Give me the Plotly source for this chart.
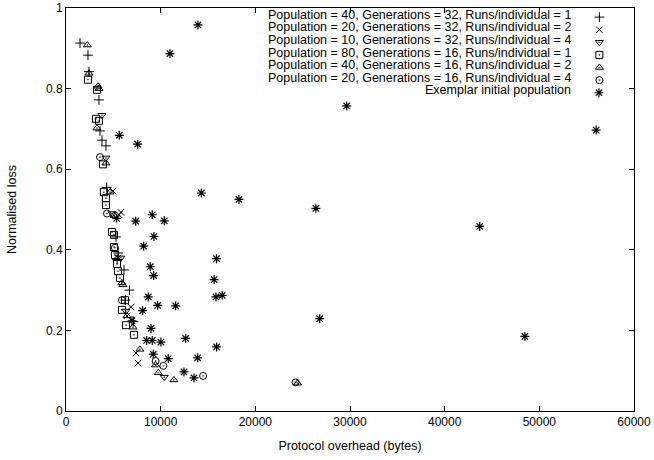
import plotly.graph_objects as go

# ---- data ----
p40g32r1_x = [1480, 2320, 2430, 3480, 3590, 3800, 4220, 4300, 5280, 5500, 5400, 6130, 6280, 7120, 6700]
p40g32r1_y = [0.913, 0.883, 0.842, 0.772, 0.695, 0.672, 0.658, 0.555, 0.432, 0.392, 0.376, 0.350, 0.275, 0.222, 0.300]

p20g32r2_x = [4950, 5600, 5800, 5500, 6860, 6440, 7390, 7600]
p20g32r2_y = [0.546, 0.487, 0.493, 0.380, 0.258, 0.236, 0.144, 0.119]

p10g32r4_x = [3800, 4220, 4860, 5800, 6330, 10380]
p10g32r4_y = [0.734, 0.628, 0.490, 0.380, 0.248, 0.084]

p80g16r1_x = [2320, 3270, 3170, 3480, 3900, 4000, 4220, 4220, 4850, 5070, 5070, 5170, 5390, 5490, 5700, 5910, 6340, 7180, 6230]
p80g16r1_y = [0.822, 0.797, 0.725, 0.720, 0.612, 0.543, 0.528, 0.511, 0.444, 0.437, 0.407, 0.387, 0.365, 0.347, 0.330, 0.251, 0.213, 0.189, 0.275]

p40g16r2_x = [2250, 2430, 3480, 3380, 3270, 4220, 4650, 5070, 5390, 5910, 6020, 6440, 7080, 7810, 9450, 9750, 11400, 24460]
p40g16r2_y = [0.908, 0.838, 0.800, 0.806, 0.702, 0.615, 0.543, 0.485, 0.378, 0.318, 0.313, 0.236, 0.208, 0.153, 0.114, 0.095, 0.077, 0.069]

p20g16r4_x = [3590, 4330, 5170, 5910, 9470, 10280, 14480, 24250]
p20g16r4_y = [0.630, 0.490, 0.405, 0.275, 0.124, 0.112, 0.087, 0.071]

exemplar_x = [13940, 10980, 29650, 56000, 5630, 7570, 14300, 18270, 26400, 43700,
              9110, 10380, 7360, 9290, 8200, 15900, 8900, 9260, 15650, 8690,
              15840, 16500, 9680, 11580, 8100, 26800, 6970, 8980, 8520, 9110,
              10030, 12640, 15910, 48470, 9220, 10800, 13900, 12460, 13520, 5350]
exemplar_y = [0.958, 0.887, 0.757, 0.697, 0.684, 0.662, 0.541, 0.525, 0.503, 0.458,
              0.487, 0.472, 0.471, 0.433, 0.409, 0.378, 0.358, 0.336, 0.326, 0.283,
              0.283, 0.287, 0.262, 0.261, 0.249, 0.229, 0.224, 0.205, 0.175, 0.175,
              0.171, 0.180, 0.159, 0.185, 0.141, 0.130, 0.132, 0.097, 0.082, 0.478]

x_ticks = [0, 10000, 20000, 30000, 40000, 50000, 60000]
y_ticks = [0, 0.2, 0.4, 0.6, 0.8, 1]
y_ticktext = ["0", "0.2", "0.4", "0.6", "0.8", "1"]

series_names = [
    "Population = 40, Generations = 32, Runs/individual = 1",
    "Population = 20, Generations = 32, Runs/individual = 2",
    "Population = 10, Generations = 32, Runs/individual = 4",
    "Population = 80, Generations = 16, Runs/individual = 1",
    "Population = 40, Generations = 16, Runs/individual = 2",
    "Population = 20, Generations = 16, Runs/individual = 4",
    "Exemplar initial population",
]
series_x = [p40g32r1_x, p20g32r2_x, p10g32r4_x, p80g16r1_x, p40g16r2_x, p20g16r4_x, exemplar_x]
series_y = [p40g32r1_y, p20g32r2_y, p10g32r4_y, p80g16r1_y, p40g16r2_y, p20g16r4_y, exemplar_y]
symbols = ["cross-thin-open", "x-thin-open", "triangle-down-open-dot", "square-open-dot",
           "triangle-up-open-dot", "circle-open-dot", "asterisk-open"]
sizes = [7, 6.5, 7, 7, 7, 7, 7.5]

font = "Liberation Sans, Arial, Helvetica, sans-serif"

# plot area in pixels (for legend placement)
L, R, T, B = 66, 20, 8, 49
W, H = 654, 460
pw, ph = W - L - R, H - T - B

fig = go.Figure()
legends = {}
row0, row_step = 17.5, 12.6
for i, (name, xs, ys, sym, sz) in enumerate(zip(series_names, series_x, series_y, symbols, sizes)):
    key = "legend" if i == 0 else f"legend{i + 1}"
    fig.add_trace(go.Scatter(
        x=xs, y=ys, mode="markers", name=" ", legend=key,
        marker=dict(symbol=sym, size=sz, color="black",
                    line=dict(color="black", width=1.2 if sym == "asterisk-open" else 1)),
    ))
    py = row0 + i * row_step
    legends[key] = dict(
        x=(628 - L) / pw, y=(H - B - py) / ph, xanchor="right", yanchor="middle",
        bgcolor="rgba(0,0,0,0)", borderwidth=0, itemwidth=30,
        font=dict(family=font, size=12.5, color="black"),
        title=dict(text=name, side="left", font=dict(family=font, size=12.5, color="black")),
    )

axis_common = dict(
    showgrid=False, zeroline=False, showline=True, linecolor="black", linewidth=1,
    mirror="allticks", ticks="inside", ticklen=5, tickcolor="black", automargin=False,
    tickfont=dict(family=font, size=12, color="black"),
)
fig.update_xaxes(range=[0, 60000], tickvals=x_ticks, tickformat="d",
                 title=dict(text="Protocol overhead (bytes)", font=dict(family=font, size=12.5, color="black"), standoff=12),
                 **axis_common)
fig.update_yaxes(range=[0, 1], tickvals=y_ticks, ticktext=y_ticktext,
                 title=dict(text="Normalised loss", font=dict(family=font, size=12.5, color="black"), standoff=26),
                 **axis_common)

fig.update_layout(
    width=W, height=H,
    margin=dict(l=L, r=R, t=T, b=B, autoexpand=False),
    paper_bgcolor="white", plot_bgcolor="white",
    font=dict(family=font, size=12, color="black"),
    showlegend=True,
    **legends,
)

fig.write_html("out.html")
